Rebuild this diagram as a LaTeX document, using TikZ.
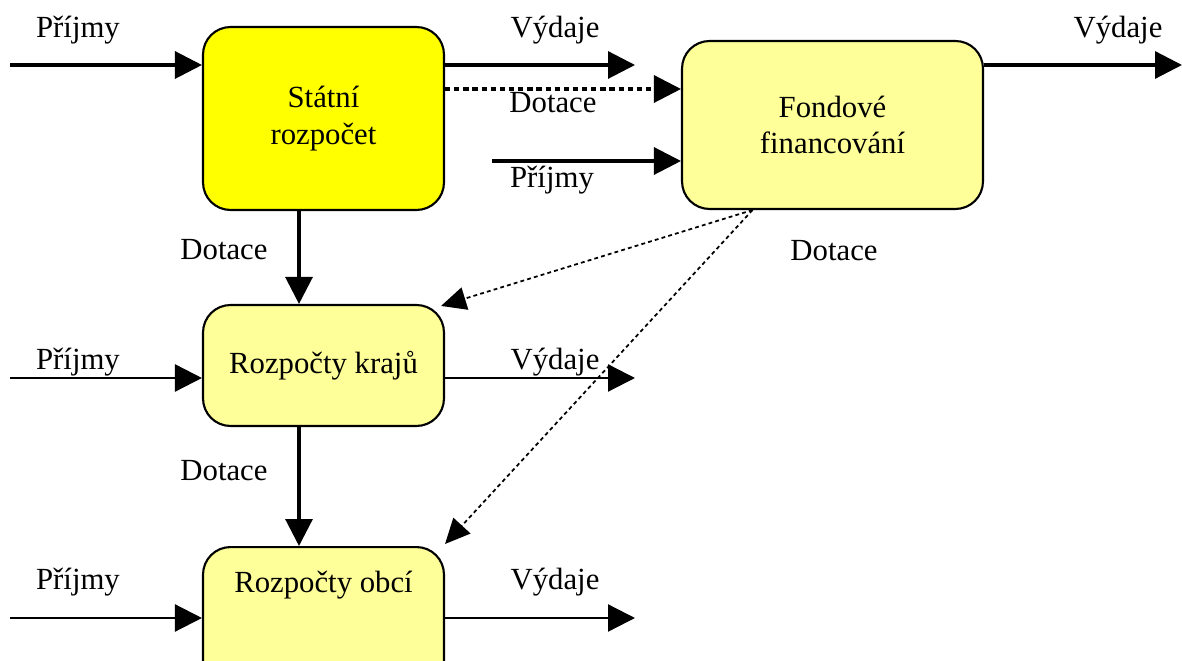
\documentclass[tikz,border=0pt]{standalone}
\usepackage{fontspec}
\setmainfont{Liberation Serif}
\usepackage{xcolor}
\usetikzlibrary{arrows.meta}

\definecolor{budget}{HTML}{FFFF99}
\definecolor{state}{HTML}{FFFF00}

\begin{document}
\begin{tikzpicture}[x=0.02cm, y=-0.02cm,
  font=\fontsize{17.5}{21}\selectfont,
  box/.style={rectangle, rounded corners=0.55cm, draw=black, line width=1.2pt, fill=budget, align=center, minimum width=4.82cm, inner sep=0pt},
  flow/.style={line width=1.8pt, -{Triangle[length=0.54cm,width=0.54cm]}},
  grant/.style={line width=1pt, dash pattern=on 2.2pt off 1.8pt, -{Triangle[length=0.5cm,width=0.46cm]}},
  lbl/.style={inner sep=0pt}]
\useasboundingbox (0,0) rectangle (1182,661);

% rozpocty
\node[box, fill=state, minimum height=3.66cm] (stat) at (323.5,118.5) {Státní\\rozpočet};
\node[box, minimum width=6.02cm, minimum height=3.36cm] (fond) at (832.5,125) {Fondové\\financování};
\node[box, minimum height=2.42cm] (kraj) at (323.5,365.5) {Rozpočty krajů};
\node[box, anchor=north, inner ysep=0.4cm, text height=0.5cm, text depth=1.9cm] (obce) at (323.5,546) {Rozpočty obcí};

% popisky
\node[lbl] (pr1) at (78,30) {Příjmy};
\node[lbl] (vy1) at (555,30) {Výdaje};
\node[lbl] (do1) at (553,103) {Dotace};
\node[lbl] (pr2) at (552,180) {Příjmy};
\node[lbl] (vy2) at (1118,30) {Výdaje};
\node[lbl] (do2) at (224,250) {Dotace};
\node[lbl] (do3) at (834,251) {Dotace};
\node[lbl] (pr3) at (78,362) {Příjmy};
\node[lbl] (vy3) at (555,362) {Výdaje};
\node[lbl] (do4) at (224,471) {Dotace};
\node[lbl] (pr4) at (78,582) {Příjmy};
\node[lbl] (vy4) at (555,582) {Výdaje};

% toky
\coordinate (in1) at (10,65);
\coordinate (out1) at (635,65);
\coordinate (d1) at (0,89);
\coordinate (in2) at (492,161);
\coordinate (out2) at (1182,65);
\coordinate (in3) at (10,378);
\coordinate (out3) at (635,378);
\coordinate (in4) at (10,618);
\coordinate (out4) at (635,618);
\draw[flow] (in1) -- (stat.west |- in1);
\draw[flow] (stat.east |- out1) -- (out1);
\draw[grant, line width=1.8pt, dash pattern=on 3pt off 2.2pt, -{Triangle[length=0.54cm,width=0.54cm]}] (stat.east |- d1) -- (fond.west |- d1);
\draw[flow] (in2) -- (fond.west |- in2);
\draw[flow] (fond.east |- out2) -- (out2);
\draw[flow] ([xshift=-0.49cm]stat.south) -- ([xshift=-0.49cm]kraj.north);
\draw[flow, line width=1.4pt] (in3) -- (kraj.west |- in3);
\draw[flow, line width=1.3pt] (kraj.east |- out3) -- (out3);
\draw[flow] ([xshift=-0.49cm]kraj.south) -- ([xshift=-0.49cm]obce.north);
\draw[flow, line width=1.3pt] (in4) -- (obce.west |- in4);
\draw[flow, line width=1.3pt] (obce.east |- out4) -- (out4);

% dotace z fondu
\coordinate (src) at ([xshift=-1.6cm]fond.south);
\draw[grant] (src) -- ([xshift=-0.08cm,yshift=-0.04cm]kraj.north east);
\draw[grant] (src) -- ([yshift=0.04cm]obce.north east);
\end{tikzpicture}
\end{document}
